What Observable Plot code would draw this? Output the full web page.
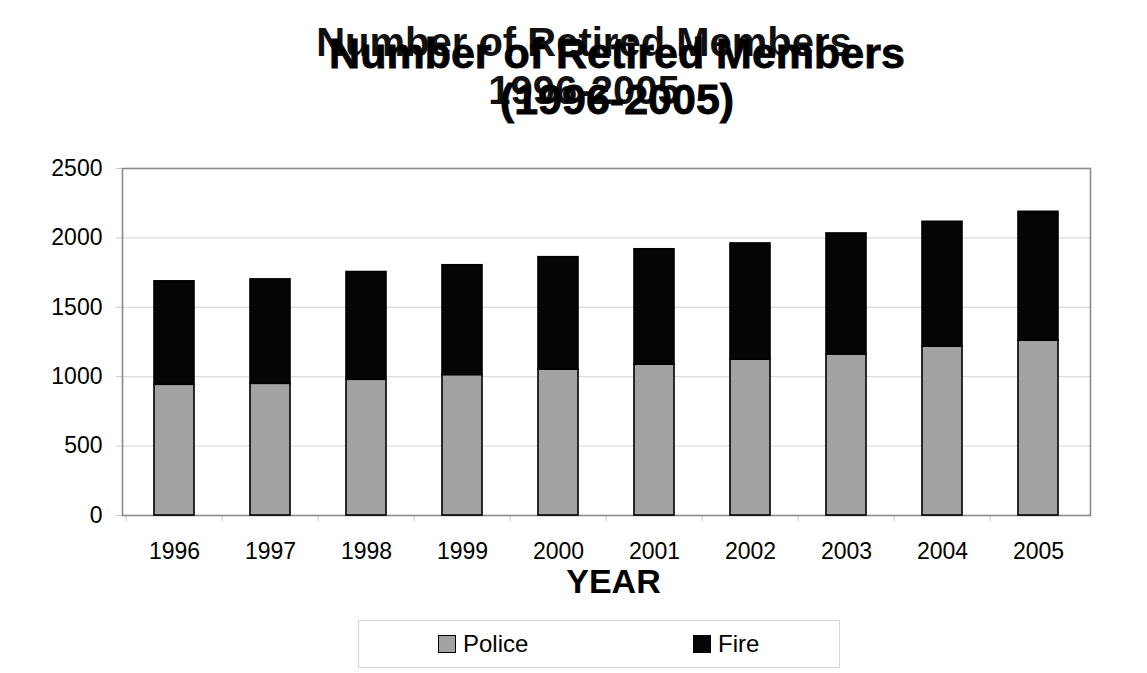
<!DOCTYPE html>
<html>
<head>
<meta charset="utf-8">
<script src="https://cdn.jsdelivr.net/npm/d3@7"></script>
<script src="https://cdn.jsdelivr.net/npm/@observablehq/plot@0.6"></script>
<style>
  html, body { margin: 0; padding: 0; background: #fff; }
  #page { position: relative; width: 1147px; height: 673px; overflow: hidden;
          font-family: "Liberation Sans", Arial, sans-serif; color: #000; }
  .title { position: absolute; text-align: center; font-weight: bold; white-space: nowrap; }
  #titleA { left: 184px; width: 800px; top: 18px; font-size: 40px; line-height: 48px; color: #111; }
  #titleB { left: 217px; width: 800px; top: 30px; font-size: 43px; line-height: 46px; color: #000;
            -webkit-text-stroke: 0.8px #000; }
  #chart { position: absolute; left: 0; top: 130px; }
  #legend { position: absolute; left: 358px; top: 620px; width: 480px; height: 46px;
            border: 1px solid #d8d8d8; font-size: 24px; }
  .item { position: absolute; top: 0; height: 46px; display: flex; align-items: center; }
  .swatch { width: 16px; height: 16px; border: 1.5px solid #000; margin-right: 7px; }
</style>
</head>
<body>
<div id="page">
  <div class="title" id="titleA">Number of Retired Members<br>1996-2005</div>
  <div class="title" id="titleB">Number of Retired Members<br>(1996-2005)</div>
  <div id="chart"></div>
  <div id="legend"></div>
</div>
<script>
// Retired members per year, by service
const years = ["1996", "1997", "1998", "1999", "2000", "2001", "2002", "2003", "2004", "2005"];
const police = [942, 949, 978, 1012, 1051, 1087, 1123, 1160, 1217, 1260];
const fire = [745, 752, 776, 791, 810, 831, 837, 872, 899, 928];
const seriesNames = ["Police", "Fire"];
const seriesColors = ["#a3a3a3", "#050505"];
const yTicks = [0, 500, 1000, 1500, 2000, 2500];

const rows = [
  ...years.map((year, i) => ({year, series: "Police", value: police[i]})),
  ...years.map((year, i) => ({year, series: "Fire", value: fire[i]}))
];

const chart = Plot.plot({
  width: 1147,
  height: 480,
  marginLeft: 122,
  marginRight: 57,
  marginTop: 38,
  marginBottom: 95,
  style: {fontFamily: "'Liberation Sans', Arial, sans-serif", color: "#000", background: "transparent"},
  x: {domain: years, paddingInner: 0.587, paddingOuter: 0.2935, axis: null},
  y: {domain: [0, 2500], axis: null},
  color: {domain: seriesNames, range: seriesColors},
  marks: [
    Plot.gridY(yTicks.filter(t => t > 0 && t < 2500), {stroke: "#dcdcdc", strokeOpacity: 1, strokeWidth: 1.2}),
    Plot.axisY({ticks: yTicks, tickFormat: d => String(d), tickSize: 6, tickPadding: 14,
                fontSize: 23, stroke: "#c8c8c8", label: null}),
    // small tick marks at the category boundaries below the axis
    Plot.axisX({tickSize: 6, tickFormat: () => "", dx: -48.4, stroke: "#c8c8c8", label: null}),
    Plot.axisX({tickSize: 0, tickPadding: 27, fontSize: 23, label: null}),
    Plot.frame({stroke: "#8a8a8a", strokeWidth: 1.6}),
    Plot.barY(rows, {x: "year", y: "value", fill: "series", order: seriesNames,
                     stroke: "#000", strokeWidth: 1.6}),
    Plot.text(["YEAR"], {frameAnchor: "bottom", lineAnchor: "middle", dy: 67, dx: 7,
                         fontSize: 34, fontWeight: "bold"})
  ]
});
document.getElementById("chart").appendChild(chart);

// legend
const legend = document.getElementById("legend");
const itemLeft = [79, 334];
seriesNames.forEach((name, i) => {
  const item = document.createElement("div");
  item.className = "item";
  item.style.left = itemLeft[i] + "px";
  const sw = document.createElement("div");
  sw.className = "swatch";
  sw.style.background = seriesColors[i];
  item.appendChild(sw);
  item.appendChild(document.createTextNode(name));
  legend.appendChild(item);
});
</script>
</body>
</html>
